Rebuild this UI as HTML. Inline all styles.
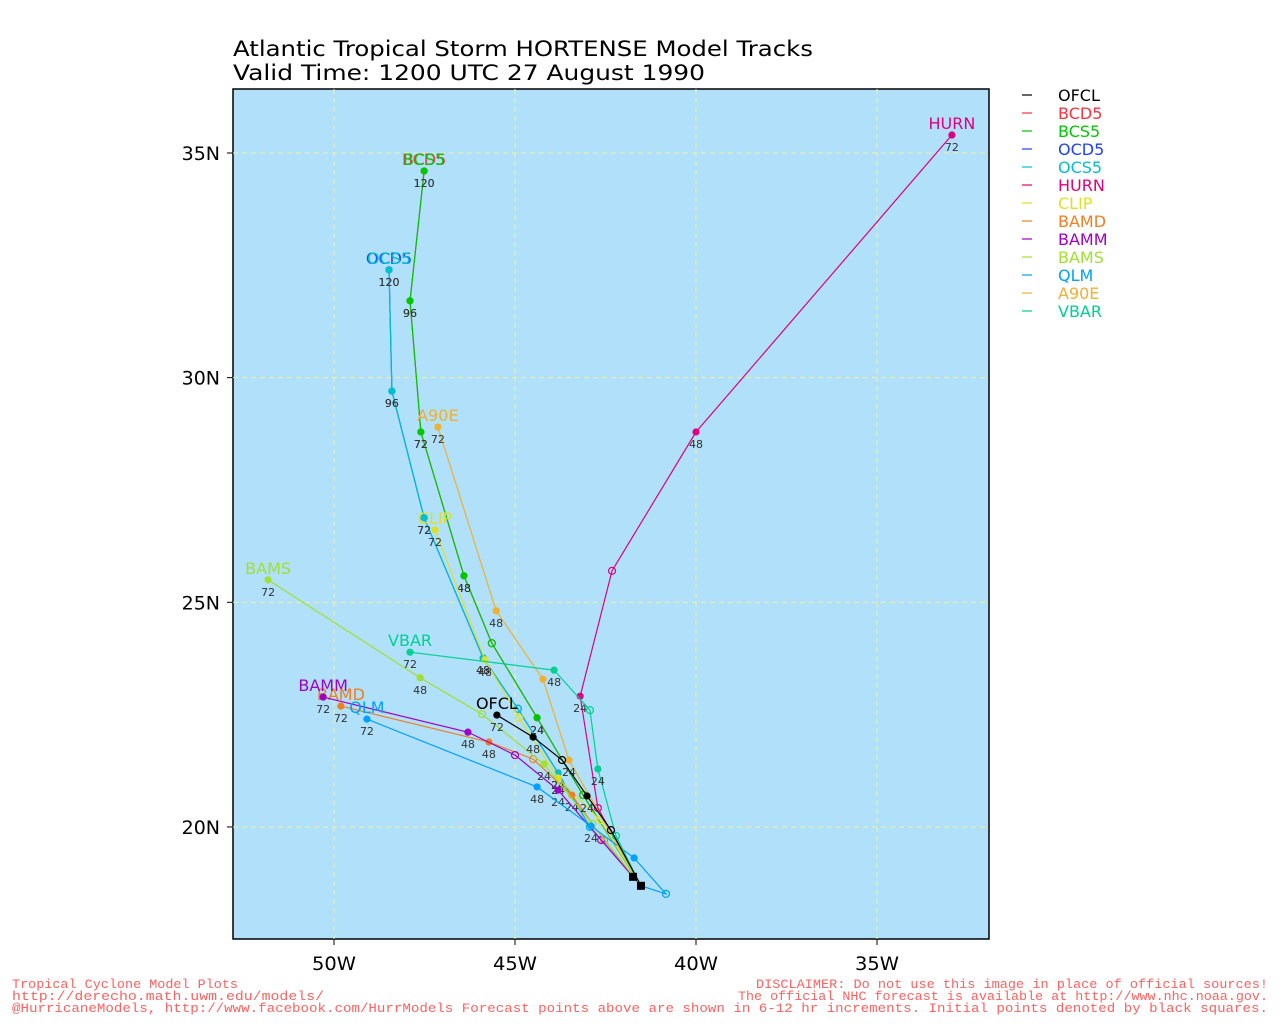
<!DOCTYPE html>
<html><head><meta charset="utf-8"><style>
body{margin:0;background:#fff;}
svg text{font-family:"DejaVu Sans","Liberation Sans",sans-serif;}
svg text.mono{font-family:"Liberation Mono","DejaVu Sans Mono",monospace;}
</style></head><body>
<svg id="c" width="1280" height="1024" xmlns="http://www.w3.org/2000/svg">
<text x="233" y="56" font-size="21" fill="#000" textLength="580" lengthAdjust="spacingAndGlyphs">Atlantic Tropical Storm HORTENSE Model Tracks</text>
<text x="233" y="80" font-size="21" fill="#000" textLength="472" lengthAdjust="spacingAndGlyphs">Valid Time: 1200 UTC 27 August 1990</text>
<rect x="233" y="89" width="756" height="850" fill="#b0e0fa" stroke="#000" stroke-width="1.5"/>
<g id="grid"></g><g id="tracks"></g><g id="legend"></g>
<g font-size="13" fill="#ff6060">
<text class="mono" x="12" y="988" textLength="226" lengthAdjust="spacingAndGlyphs">Tropical Cyclone Model Plots</text>
<text class="mono" x="12" y="1000" textLength="312" lengthAdjust="spacingAndGlyphs">http://derecho.math.uwm.edu/models/</text>
<text class="mono" x="12" y="1012" textLength="1256" lengthAdjust="spacingAndGlyphs">@HurricaneModels, http://www.facebook.com/HurrModels  Forecast points above are shown in 6-12 hr increments. Initial points denoted by black squares.</text>
<text class="mono" x="756" y="988" textLength="512" lengthAdjust="spacingAndGlyphs">DISCLAIMER: Do not use this image in place of official sources!</text>
<text class="mono" x="738" y="1000" textLength="530" lengthAdjust="spacingAndGlyphs">The official NHC forecast is available at http://www.nhc.noaa.gov.</text>
</g>
</svg>
<script>
const lonTicks=[50,45,40,35];
const latTicks=[35,30,25,20];
const models=['OFCL','BCD5','BCS5','OCD5','OCS5','HURN','CLIP','BAMD','BAMM','BAMS','QLM','A90E','VBAR'];
const colors=['#000000','#ff3040','#00c800','#2040ff','#00c0d0','#e0007f','#e0e020','#f07f20','#a000c8','#a0e030','#00a0ff','#f0b030','#00d090'];
const lonOFCL=[41.52,42.35,43.01,43.70,44.50,45.50];
const latOFCL=[18.69,19.93,20.69,21.49,22.00,22.49];
const tauOFCL=[0,12,24,36,48,72];
const lonBCS5=[41.52,43.12,44.39,45.64,46.41,47.60,47.90,47.51];
const latBCS5=[18.69,20.71,22.43,24.09,25.59,28.79,31.71,34.60];
const tauBCS5=[0,12,24,36,48,72,96,120];
const lonOCS5=[41.52,42.93,43.81,44.92,45.88,47.51,48.40,48.48];
const latOCS5=[18.69,20.00,21.20,22.63,23.76,26.88,29.70,32.40];
const tauOCS5=[0,12,24,36,48,72,96,120];
const lonHURN=[41.52,42.71,43.20,42.32,40.00,32.93];
const latHURN=[18.69,20.42,22.91,25.70,28.79,35.40];
const tauHURN=[0,12,24,36,48,72];
const lonCLIP=[41.52,42.65,43.81,44.89,45.83,47.21];
const latCLIP=[18.69,20.15,21.09,22.43,23.72,26.61];
const tauCLIP=[0,12,24,36,48,72];
const lonBAMD=[41.52,42.54,43.43,44.50,45.72,49.81];
const latBAMD=[18.69,19.71,20.71,21.51,21.89,22.69];
const tauBAMD=[0,12,24,36,48,72];
const lonBAMM=[41.52,42.62,43.81,45.00,46.30,50.30];
const latBAMM=[18.69,19.71,20.82,21.60,22.11,22.89];
const tauBAMM=[0,12,24,36,48,72];
const lonBAMS=[41.52,42.87,44.20,45.91,47.62,51.82];
const latBAMS=[18.69,20.07,21.40,22.51,23.32,25.50];
const tauBAMS=[0,12,24,36,48,72];
const lonQLM=[41.52,40.83,41.71,42.90,44.39,49.09];
const latQLM=[18.69,18.51,19.31,20.02,20.89,22.40];
const tauQLM=[0,6,12,24,48,72];
const lonA90E=[41.52,43.51,44.23,45.52,47.13];
const latA90E=[18.69,21.49,23.29,24.81,28.90];
const tauA90E=[0,24,36,48,72];
const lonVBAR=[41.52,42.21,42.71,42.93,43.92,47.90];
const latVBAR=[18.69,19.80,21.29,22.60,23.49,23.89];
const tauVBAR=[0,12,24,36,48,72];

const NS='http://www.w3.org/2000/svg';
function xS(w){return 334+(50-w)*36.2;}
function yS(n){return 153+(35-n)*44.93;}
function mk(t,a,p){const e=document.createElementNS(NS,t);for(const k in a)e.setAttribute(k,a[k]);p.appendChild(e);return e;}
const grid=document.getElementById('grid');
lonTicks.forEach(w=>{
  const l=mk('line',{x1:xS(w),x2:xS(w),y1:89,y2:939,stroke:'#f0f0a0','stroke-dasharray':'5,4','stroke-width':1},grid);
  
  
  const tk=mk('line',{x1:xS(w),x2:xS(w),y1:939,y2:945,stroke:'#000'},grid);
  
  
  const t=mk('text',{x:xS(w),y:970,'font-size':19,'text-anchor':'middle',textLength:44,lengthAdjust:'spacingAndGlyphs'},grid);t.textContent=w+'W';
  
  
});
latTicks.forEach(n=>{
  const l=mk('line',{x1:233,x2:989,y1:yS(n),y2:yS(n),stroke:'#f0f0a0','stroke-dasharray':'5,4','stroke-width':1},grid);
  
  
  const tk=mk('line',{x1:227,x2:233,y1:yS(n),y2:yS(n),stroke:'#000'},grid);
  
  
  const t=mk('text',{x:220,y:yS(n)+7,'font-size':19,'text-anchor':'end'},grid);t.textContent=n+'N';
  
  
});
const tr=document.getElementById('tracks');
const series=[['BCD5',lonBCS5,latBCS5,tauBCS5],['OCD5',lonOCS5,latOCS5,tauOCS5],['BCS5',lonBCS5,latBCS5,tauBCS5],['OCS5',lonOCS5,latOCS5,tauOCS5],['HURN',lonHURN,latHURN,tauHURN],['CLIP',lonCLIP,latCLIP,tauCLIP],['BAMD',lonBAMD,latBAMD,tauBAMD],['BAMM',lonBAMM,latBAMM,tauBAMM],['BAMS',lonBAMS,latBAMS,tauBAMS],['QLM',lonQLM,latQLM,tauQLM],['A90E',lonA90E,latA90E,tauA90E],['VBAR',lonVBAR,latVBAR,tauVBAR],['OFCL',lonOFCL,latOFCL,tauOFCL]];
series.forEach(s=>{
  const [name,lo,la,ta]=s;const col=colors[models.indexOf(name)];
  const g=mk('g',{},tr);
  
  
  const pts=lo.map((w,i)=>xS(w)+','+yS(la[i])).join(' ');
  const pl=mk('polyline',{points:pts,fill:'none',stroke:col,'stroke-width':1.2},g);
  
  
  lo.forEach((w,i)=>{
    if(i===0)return;
    const hollow=i%2===1 && ta[i]%24!==0;
    const c=mk('circle',{cx:xS(w),cy:yS(la[i]),r:hollow?3.5:3,fill:hollow?'none':col,stroke:col,'stroke-width':1.2},g);
    
    
    if(ta[i]%24===0){
      const t=mk('text',{x:xS(w),y:yS(la[i])+16,'font-size':11,'text-anchor':'middle',fill:'#333'},g);t.textContent=ta[i];
      
      
    }
  });
  const n=lo.length-1;
  const lbl=mk('text',{x:xS(lo[n]),y:yS(la[n])-6,'font-size':16,'text-anchor':'middle',fill:col},g);lbl.textContent=name;
  
  
});
[[41.52,18.69],[41.74,18.89]].forEach(p=>{
  const r=mk('rect',{x:xS(p[0])-4,y:yS(p[1])-4,width:8,height:8,fill:'#000'},tr);
  
  
});
const lg=document.getElementById('legend');
models.forEach((m,i)=>{
  const y=95+i*18;
  const l=mk('line',{x1:1022,x2:1032,y1:y,y2:y,stroke:colors[i],'stroke-width':1.2},lg);
  
  
  const t=mk('text',{x:1058,y:y+6,'font-size':16,fill:colors[i]},lg);t.textContent=m;
  
  
});
</script>
</body></html>
